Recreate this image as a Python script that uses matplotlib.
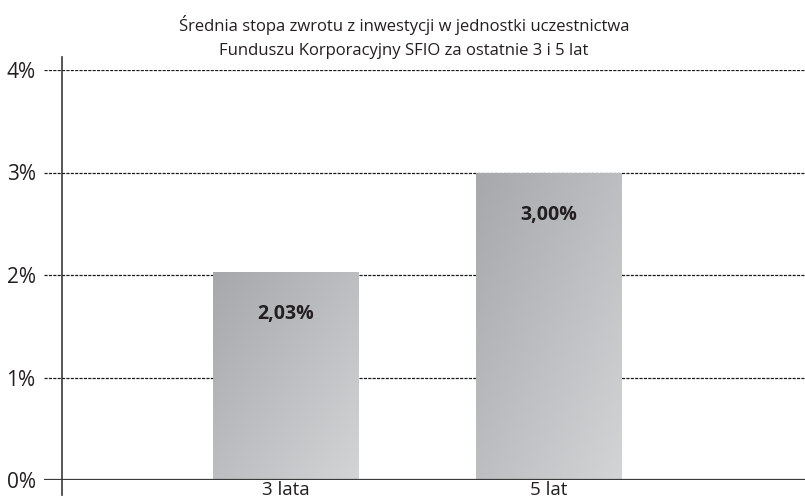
import numpy as np
import matplotlib.pyplot as plt
from matplotlib.lines import Line2D

categories = ["3 lata", "5 lat"]
values = [2.03, 3.00]
value_labels = ["2,03%", "3,00%"]
y_ticks = [0, 1, 2, 3, 4]
y_tick_labels = ["0%", "1%", "2%", "3%", "4%"]
title = ("Średnia stopa zwrotu z inwestycji w jednostki uczestnictwa\n"
         "Funduszu Korporacyjny SFIO za ostatnie 3 i 5 lat")

plt.rcParams['font.family'] = ['Open Sans', 'DejaVu Sans']
text_color = "#231f20"

W, H = 805, 504
fig = plt.figure(figsize=(W / 100, H / 100), dpi=100)
# axes spans from the left end of the grid lines to the right edge
ax = fig.add_axes([44 / W, 24 / H, (W - 44) / W, 410 / H])

x = np.arange(len(categories))
bars = ax.bar(x, values, width=0.556, color="none", edgecolor="none", zorder=2)

# diagonal grey gradient inside each bar
gy, gx = np.mgrid[0:1:64j, 0:1:64j]
grad = (gx + gy) / 2
cmap = plt.matplotlib.colors.LinearSegmentedColormap.from_list("g", ["#a6a8ab", "#d3d4d6"])
for b in bars:
    bx, by, bw, bh = b.get_x(), b.get_y(), b.get_width(), b.get_height()
    im = ax.imshow(grad, cmap=cmap, extent=[bx, bx + bw, by, by + bh],
                   aspect="auto", origin="upper", zorder=2, interpolation="bilinear")
    im.set_clip_path(b)

for xi, v, lab in zip(x, values, value_labels):
    ax.text(xi, v - 0.41, lab, ha="center", va="center", fontsize=14,
            fontweight="bold", color=text_color, zorder=3)

ax.set_xlim(-0.922, 1.977)
ax.set_ylim(0, 4)
ax.set_xticks(x)
ax.set_xticklabels(categories, fontsize=13.5, color=text_color)
ax.set_yticks(y_ticks)
ax.set_yticklabels(y_tick_labels, fontsize=15, color=text_color)
ax.tick_params(length=0)
ax.tick_params(axis="y", pad=6)
ax.tick_params(axis="x", pad=1)

for yv in y_ticks[1:]:
    ax.axhline(yv, color="#1a1a1a", lw=0.9, dashes=(2.5, 1), zorder=1)
ax.axhline(0, color="#3a3a3a", lw=1.6, zorder=3)

for s in ax.spines.values():
    s.set_visible(False)

# vertical axis line, extending a little beyond the plot range
fig.add_artist(Line2D([62 / W, 62 / W], [1 - 57 / H, 1 - 495 / H],
                      color="#3a3a3a", lw=1.2, transform=fig.transFigure))

fig.text(404 / W, 1 - 37 / H, title, ha="center", va="center", fontsize=12,
         color=text_color, linespacing=1.62)

fig.savefig("out.png", dpi=100)
